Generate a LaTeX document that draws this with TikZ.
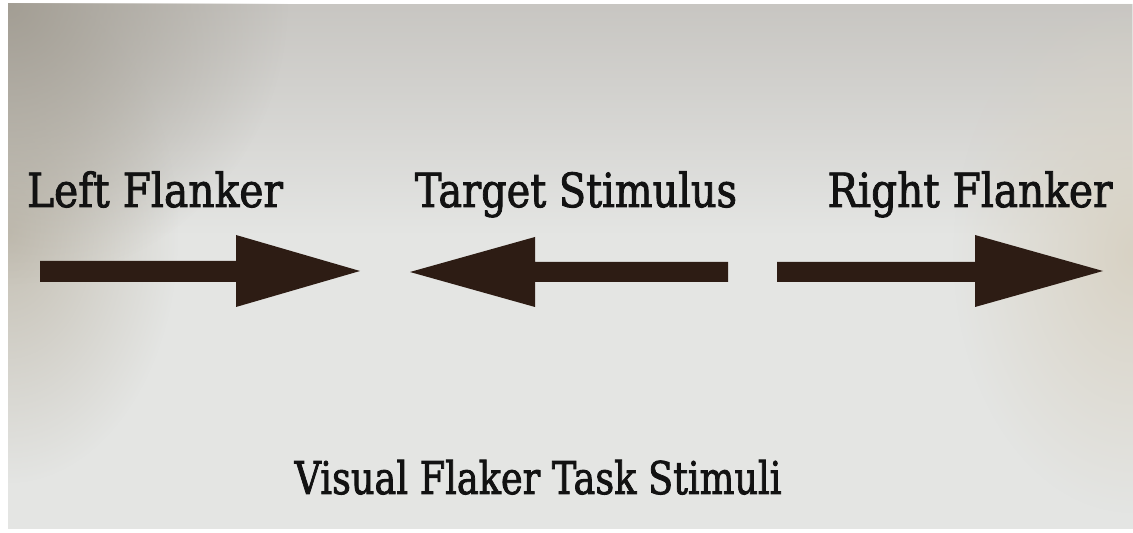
\documentclass[tikz,border=0pt]{standalone}
\usepackage{fontspec}
\setmainfont{DejaVu Serif}[FakeBold=2]
\usepackage{graphicx}
\usetikzlibrary{fadings}
\tikzfading[name=cornerfade, inner color=transparent!0, outer color=transparent!100]
\tikzfading[name=fadedown, top color=transparent!0, bottom color=transparent!100]
\definecolor{arrowbrown}{HTML}{2D1C14}
\definecolor{ink}{HTML}{121212}
\definecolor{bgmid}{HTML}{E4E5E3}
\definecolor{bgtop}{HTML}{C8C6C2}
\definecolor{bgcorner}{HTML}{A39E94}
\definecolor{bgleft}{HTML}{C4BFB3}
\definecolor{bgright}{HTML}{D8D2C4}
\newcommand\fitlbl[3]{\resizebox{#1}{\height}{\fontsize{#2}{#2}\selectfont #3}}
\tikzset{
  stim/.style={fill=arrowbrown, draw=none},
  lbl/.style={anchor=base, inner sep=0pt, text=ink}
}
\begin{document}
\begin{tikzpicture}[x=1pt,y=1pt]
\useasboundingbox (0,0) rectangle (1133,533);
\fill[white] (0,0) rectangle (1133,533);
\begin{scope}
\clip (8,4) rectangle (1133,529);
\fill[bgmid] (8,4) rectangle (1133,529);
\fill[bgtop, path fading=fadedown] (8,300) rectangle (1133,529);
\fill[bgleft, path fading=cornerfade] (8,300) ellipse (170 and 250);
\fill[bgright, path fading=cornerfade] (1133,280) ellipse (180 and 260);
\fill[bgcorner, path fading=cornerfade] (8,529) circle (280);
\end{scope}
% arrows
\fill[stim] (40,272) -- (236,272) -- (236,298) -- (360,262) -- (236,226) -- (236,251) -- (40,251) -- cycle;
\fill[stim] (728,271) -- (535,271) -- (535,296) -- (410,261) -- (535,226) -- (535,251) -- (728,251) -- cycle;
\fill[stim] (777,271) -- (975,271) -- (975,298) -- (1103,262) -- (975,226) -- (975,251) -- (777,251) -- cycle;
% labels
\node[lbl] (left) at (155,326) {\fitlbl{256pt}{47pt}{Left Flanker}};
\node[lbl] (target) at (576,326) {\fitlbl{322pt}{47pt}{Target Stimulus}};
\node[lbl] (right) at (970,326) {\fitlbl{285pt}{47pt}{Right Flanker}};
\node[lbl] (title) at (538,39) {\fitlbl{487pt}{45pt}{Visual Flaker Task Stimuli}};
\end{tikzpicture}
\end{document}
